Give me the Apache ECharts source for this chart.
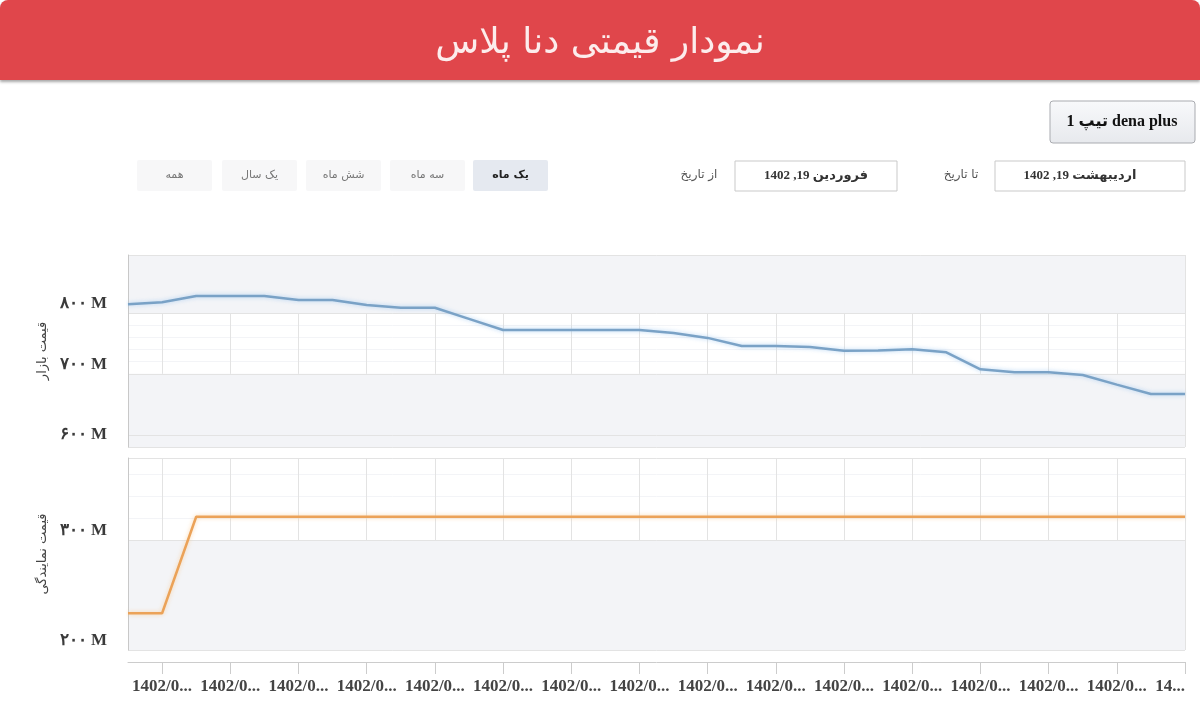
<!DOCTYPE html>
<html>
<head>
<meta charset="utf-8">
<script src="https://cdn.jsdelivr.net/npm/echarts@6/dist/echarts.min.js"></script>
<style>
html,body{margin:0;padding:0;background:#fff;}
#chart{width:1200px;height:708px;}
</style>
</head>
<body>
<div id="chart"></div>
<script>
// ---- data ----
const dates = [
  '1402/01/19','1402/01/20','1402/01/21','1402/01/22','1402/01/23','1402/01/24','1402/01/25','1402/01/26',
  '1402/01/27','1402/01/28','1402/01/29','1402/01/30','1402/01/31','1402/02/01','1402/02/02','1402/02/03',
  '1402/02/04','1402/02/05','1402/02/06','1402/02/07','1402/02/08','1402/02/09','1402/02/10','1402/02/11',
  '1402/02/12','1402/02/13','1402/02/14','1402/02/15','1402/02/16','1402/02/17','1402/02/18','1402/02/19'
];
// قیمت بازار (million)
const marketPrice = [
  814.1, 817.4, 827.7, 827.7, 827.7, 821.2, 821.2, 813.0,
  808.5, 808.5, 790.3, 772.0, 772.0, 772.0, 772.0, 772.0,
  767.0, 759.0, 745.7, 745.7, 744.1, 738.0, 738.3, 740.3,
  735.4, 707.5, 702.6, 702.6, 698.1, 682.4, 667.0, 667.0
];
// قیمت نمایندگی (million)
const dealerPrice = [
  233.4, 233.4, 321.1, 321.1, 321.1, 321.1, 321.1, 321.1,
  321.1, 321.1, 321.1, 321.1, 321.1, 321.1, 321.1, 321.1,
  321.1, 321.1, 321.1, 321.1, 321.1, 321.1, 321.1, 321.1,
  321.1, 321.1, 321.1, 321.1, 321.1, 321.1, 321.1, 321.1
];
const titleText = 'نمودار قیمتی دنا پلاس';
const seriesNames = ['قیمت بازار', 'قیمت نمایندگی'];
const rangeButtons = ['یک ماه', 'سه ماه', 'شش ماه', 'یک سال', 'همه'];
const fromLabel = 'از تاریخ';
const toLabel = 'تا تاریخ';
const fromDate = 'فروردین 19, 1402';
const toDate = 'اردیبهشت 19, 1402';
const trimText = '1 تیپ dena plus';
const faDigits = ['۰','۱','۲','۳','۴','۵','۶','۷','۸','۹'];
const unitSuffix = ' M';

function toFa(v) {
  return String(Math.round(v)).replace(/[0-9]/g, d => faDigits[+d]);
}

const BAND = '#f3f4f7';
const SPLIT = '#e3e3e3';
const FA_FONT = "'DejaVu Sans', sans-serif";
const SERIF = "'Liberation Serif', 'DejaVu Serif', serif";

const chart = echarts.init(document.getElementById('chart'), null, {renderer: 'canvas'});

const oddIdx = (i) => i % 2 === 1;

function minorAxis(grid, min, max) {
  return {
    type: 'value', gridIndex: grid, position: 'right', min: min, max: max, interval: 20, z: 0,
    axisLine: {show: false}, axisTick: {show: false}, axisLabel: {show: false},
    splitLine: {show: true, lineStyle: {color: BAND, width: 1}}
  };
}

const labelFont = {fontFamily: SERIF, fontWeight: 'bold', fontSize: 17, color: '#3a3a3a'};

function mainAxis(grid, min, max, splitNumber, bandColors, name, showMin, centerLowest) {
  const lowest = Math.ceil(min / 100) * 100;
  return {
    type: 'value', gridIndex: grid, position: 'left', min: min, max: max, z: 1,
    splitNumber: splitNumber, minInterval: 100, maxInterval: 100,
    name: name, nameLocation: 'middle', nameGap: 76, nameRotate: 90,
    nameTextStyle: {fontFamily: FA_FONT, fontSize: 13, color: '#444'},
    axisLine: {show: true, lineStyle: {color: '#c8c8c8', width: 1}},
    axisTick: {show: false},
    axisLabel: Object.assign({
      show: true, margin: 21, verticalAlign: 'bottom',
      showMinLabel: showMin, showMaxLabel: false,
      formatter: (v) => {
        const t = toFa(v) + unitSuffix;
        return (centerLowest && v === lowest) ? '{low|' + t + '}' : '{n|' + t + '}';
      },
      rich: {
        n: Object.assign({lineHeight: 18}, labelFont),
        low: Object.assign({lineHeight: 1}, labelFont)
      }
    }, labelFont),
    splitLine: {show: true, lineStyle: {color: SPLIT, width: 1}},
    splitArea: {show: true, areaStyle: {color: bandColors}}
  };
}

const graphics = [
  {type: 'rect', z: 10, shape: {x: 0, y: 0, width: 1200, height: 80, r: [8, 8, 0, 0]},
   style: {fill: '#e0464b', shadowColor: 'rgba(0,0,0,0.35)', shadowBlur: 3, shadowOffsetY: 2}},
  {type: 'text', z: 11, x: 600, y: 44,
   style: {text: titleText, fill: '#fcecec', font: "36px 'DejaVu Sans', sans-serif", align: 'center', verticalAlign: 'middle'}},
  {type: 'rect', z: 10, shape: {x: 1050, y: 101, width: 145, height: 42, r: 3},
   style: {fill: new echarts.graphic.LinearGradient(0, 0, 0, 1, [{offset: 0, color: '#f8f9fb'}, {offset: 1, color: '#e7e9ed'}]),
           stroke: '#a9abb0', lineWidth: 1}},
  {type: 'text', z: 11, x: 1122, y: 122,
   style: {text: trimText, fill: '#111', font: "bold 16px 'Liberation Serif', 'DejaVu Sans', serif", align: 'center', verticalAlign: 'middle'}}
];

const btnX = [473, 390, 306, 222, 137];
rangeButtons.forEach((t, i) => {
  const sel = i === 0;
  graphics.push({type: 'rect', z: 10, shape: {x: btnX[i], y: 160, width: 75, height: 31, r: 2},
    style: {fill: sel ? '#e5e9f0' : '#f7f7f8'}});
  graphics.push({type: 'text', z: 11, x: btnX[i] + 37.5, y: 175.5,
    style: {text: t, fill: sel ? '#222' : '#777', font: (sel ? 'bold ' : '') + "11px 'DejaVu Sans', sans-serif", align: 'center', verticalAlign: 'middle'}});
});

graphics.push(
  {type: 'text', z: 11, x: 699, y: 175, style: {text: fromLabel, fill: '#555', font: "12px 'DejaVu Sans', sans-serif", align: 'center', verticalAlign: 'middle'}},
  {type: 'rect', z: 10, shape: {x: 735, y: 161, width: 162, height: 30}, style: {fill: '#fff', stroke: '#c9c9c9', lineWidth: 1}},
  {type: 'text', z: 11, x: 816, y: 176, style: {text: fromDate, fill: '#333', font: "bold 13px 'Liberation Serif', 'DejaVu Sans', serif", align: 'center', verticalAlign: 'middle'}},
  {type: 'text', z: 11, x: 961, y: 175, style: {text: toLabel, fill: '#555', font: "12px 'DejaVu Sans', sans-serif", align: 'center', verticalAlign: 'middle'}},
  {type: 'rect', z: 10, shape: {x: 995, y: 161, width: 190, height: 30}, style: {fill: '#fff', stroke: '#c9c9c9', lineWidth: 1}},
  {type: 'text', z: 11, x: 1080, y: 176, style: {text: toDate, fill: '#333', font: "bold 13px 'Liberation Serif', 'DejaVu Sans', serif", align: 'center', verticalAlign: 'middle'}}
);

const lastIdx = dates.length - 1;

const option = {
  animation: false,
  backgroundColor: '#fff',
  graphic: graphics,
  grid: [
    {left: 128, right: 15, top: 255, height: 192, containLabel: false, outerBoundsMode: 'none'},
    {left: 128, right: 15, top: 458, height: 192, containLabel: false, outerBoundsMode: 'none'}
  ],
  xAxis: [
    {type: 'category', gridIndex: 0, data: dates, boundaryGap: false,
     axisLine: {show: false}, axisTick: {show: false}, axisLabel: {show: false},
     splitLine: {show: true, interval: oddIdx, lineStyle: {color: SPLIT}}},
    {type: 'category', gridIndex: 1, data: dates, boundaryGap: false, offset: 12,
     axisLine: {show: true, onZero: false, lineStyle: {color: '#cccccc'}},
     axisTick: {show: true, interval: oddIdx, length: 12, lineStyle: {color: '#cccccc'}},
     axisLabel: {show: true, interval: oddIdx, margin: 16, alignMaxLabel: 'right',
       fontFamily: SERIF, fontWeight: 'bold', fontSize: 17, color: '#444',
       formatter: (v, i) => (i === lastIdx ? v.slice(0, 2) : v.slice(0, 6)) + '...'},
     splitLine: {show: true, interval: oddIdx, lineStyle: {color: SPLIT}}}
  ],
  yAxis: [
    minorAxis(0, 580, 895),
    mainAxis(0, 580, 895, 3, [BAND, BAND, 'rgba(255,255,255,0)', BAND], seriesNames[0], false, true),
    minorAxis(1, 200, 374.5),
    mainAxis(1, 200, 374.5, 2, [BAND, 'rgba(255,255,255,0)'], seriesNames[1], true, false)
  ],
  series: [
    {name: seriesNames[0], type: 'line', xAxisIndex: 0, yAxisIndex: 1, data: marketPrice,
     symbol: 'none', smooth: false,
     lineStyle: {color: '#7aa2c6', width: 2.5, shadowColor: 'rgba(150,195,240,0.7)', shadowBlur: 4}},
    {name: seriesNames[1], type: 'line', xAxisIndex: 1, yAxisIndex: 3, data: dealerPrice,
     symbol: 'none', smooth: false,
     lineStyle: {color: '#eba258', width: 2.5, shadowColor: 'rgba(250,200,140,0.7)', shadowBlur: 4}}
  ]
};
chart.setOption(option);
</script>
</body>
</html>
